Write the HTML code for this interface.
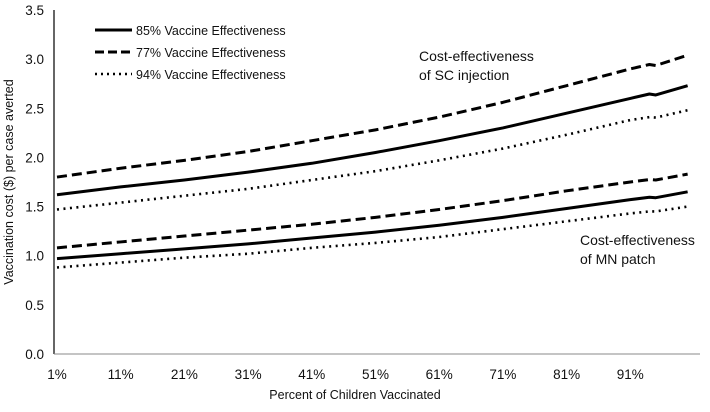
<!DOCTYPE html>
<html><head><meta charset="utf-8"><style>
body{margin:0;background:#fff}
svg text{font-family:"Liberation Sans",sans-serif;fill:#111}
</style></head><body>
<svg id="chart" width="710" height="407" viewBox="0 0 710 407" xmlns="http://www.w3.org/2000/svg">
<g id="axes"></g><g id="series"></g>
<g>
<line x1="95" y1="30" x2="132" y2="30" stroke="#000" stroke-width="3"/>
<text x="136" y="35" font-size="12.5">85% Vaccine Effectiveness</text>
<line x1="95" y1="52" x2="132" y2="52" stroke="#000" stroke-width="3" stroke-dasharray="9,4"/>
<text x="136" y="57" font-size="12.5">77% Vaccine Effectiveness</text>
<line x1="95" y1="74" x2="132" y2="74" stroke="#000" stroke-width="2.5" stroke-dasharray="2,4"/>
<text x="136" y="79" font-size="12.5">94% Vaccine Effectiveness</text>
</g>
<text x="419" y="61" font-size="14">Cost-effectiveness</text>
<text x="419" y="80" font-size="14">of SC injection</text>
<text x="580" y="245" font-size="14">Cost-effectiveness</text>
<text x="580" y="264" font-size="14">of MN patch</text>
<text x="355" y="399" font-size="12.5" text-anchor="middle">Percent of Children Vaccinated</text>
<text transform="translate(13,182) rotate(-90)" font-size="12.5" text-anchor="middle">Vaccination cost ($) per case averted</text>
</svg>
<script>
const xPct=[1,11,21,31,41,51,61,71,81,91,94,95,100];
const sc85=[1.62,1.70,1.77,1.85,1.94,2.05,2.17,2.30,2.45,2.60,2.645,2.635,2.73];
const sc77=[1.80,1.89,1.97,2.06,2.17,2.28,2.41,2.56,2.73,2.90,2.945,2.935,3.04];
const sc94=[1.47,1.54,1.61,1.68,1.77,1.86,1.97,2.09,2.23,2.38,2.41,2.405,2.48];
const mn85=[0.97,1.02,1.07,1.12,1.18,1.24,1.31,1.39,1.48,1.57,1.595,1.59,1.65];
const mn77=[1.08,1.14,1.20,1.26,1.32,1.39,1.47,1.56,1.66,1.75,1.775,1.77,1.83];
const mn94=[0.88,0.93,0.98,1.02,1.08,1.13,1.19,1.27,1.35,1.43,1.45,1.45,1.50];
const yTicks=[0,0.5,1,1.5,2,2.5,3,3.5];
const xTicks=[1,11,21,31,41,51,61,71,81,91];
const NS="http://www.w3.org/2000/svg";
const X=p=>57+(p-1)*6.37;
const Y=v=>354-v*98.3;
const axes=document.getElementById('axes'),ser=document.getElementById('series');
function mk(t,a,parent){const e=document.createElementNS(NS,t);for(const k in a)e.setAttribute(k,a[k]);parent.appendChild(e);return e;}
const ya=mk('line',{x1:54,y1:Y(3.5),x2:54,y2:Y(0),stroke:'#000','stroke-width':1.2},axes);


const xa=mk('line',{x1:54,y1:Y(0),x2:700,y2:Y(0),stroke:'#888','stroke-width':1},axes);


yTicks.forEach(v=>{const t=mk('text',{x:44,y:Y(v)+5,'font-size':13.5,'text-anchor':'end'},axes);t.textContent=v.toFixed(1);

});
xTicks.forEach(p=>{const t=mk('text',{x:X(p),y:379,'font-size':13.5,'text-anchor':'middle'},axes);t.textContent=p+'%';

});
const styles={solid:{w:3,d:''},dash:{w:3,d:'10,5'},dot:{w:2.6,d:'2,4.5'}};
[[sc85,'solid','sc-85-line'],[sc77,'dash','sc-77-line'],[sc94,'dot','sc-94-line'],[mn85,'solid','mn-85-line'],[mn77,'dash','mn-77-line'],[mn94,'dot','mn-94-line']].forEach(([d,s,n])=>{
const pts=d.map((v,i)=>X(xPct[i])+','+Y(v)).join(' ');
const a={points:pts,fill:'none',stroke:'#000','stroke-width':styles[s].w,'stroke-linejoin':'round'};
if(styles[s].d)a['stroke-dasharray']=styles[s].d;
const pl=mk('polyline',a,ser);


});
</script>
</body></html>
